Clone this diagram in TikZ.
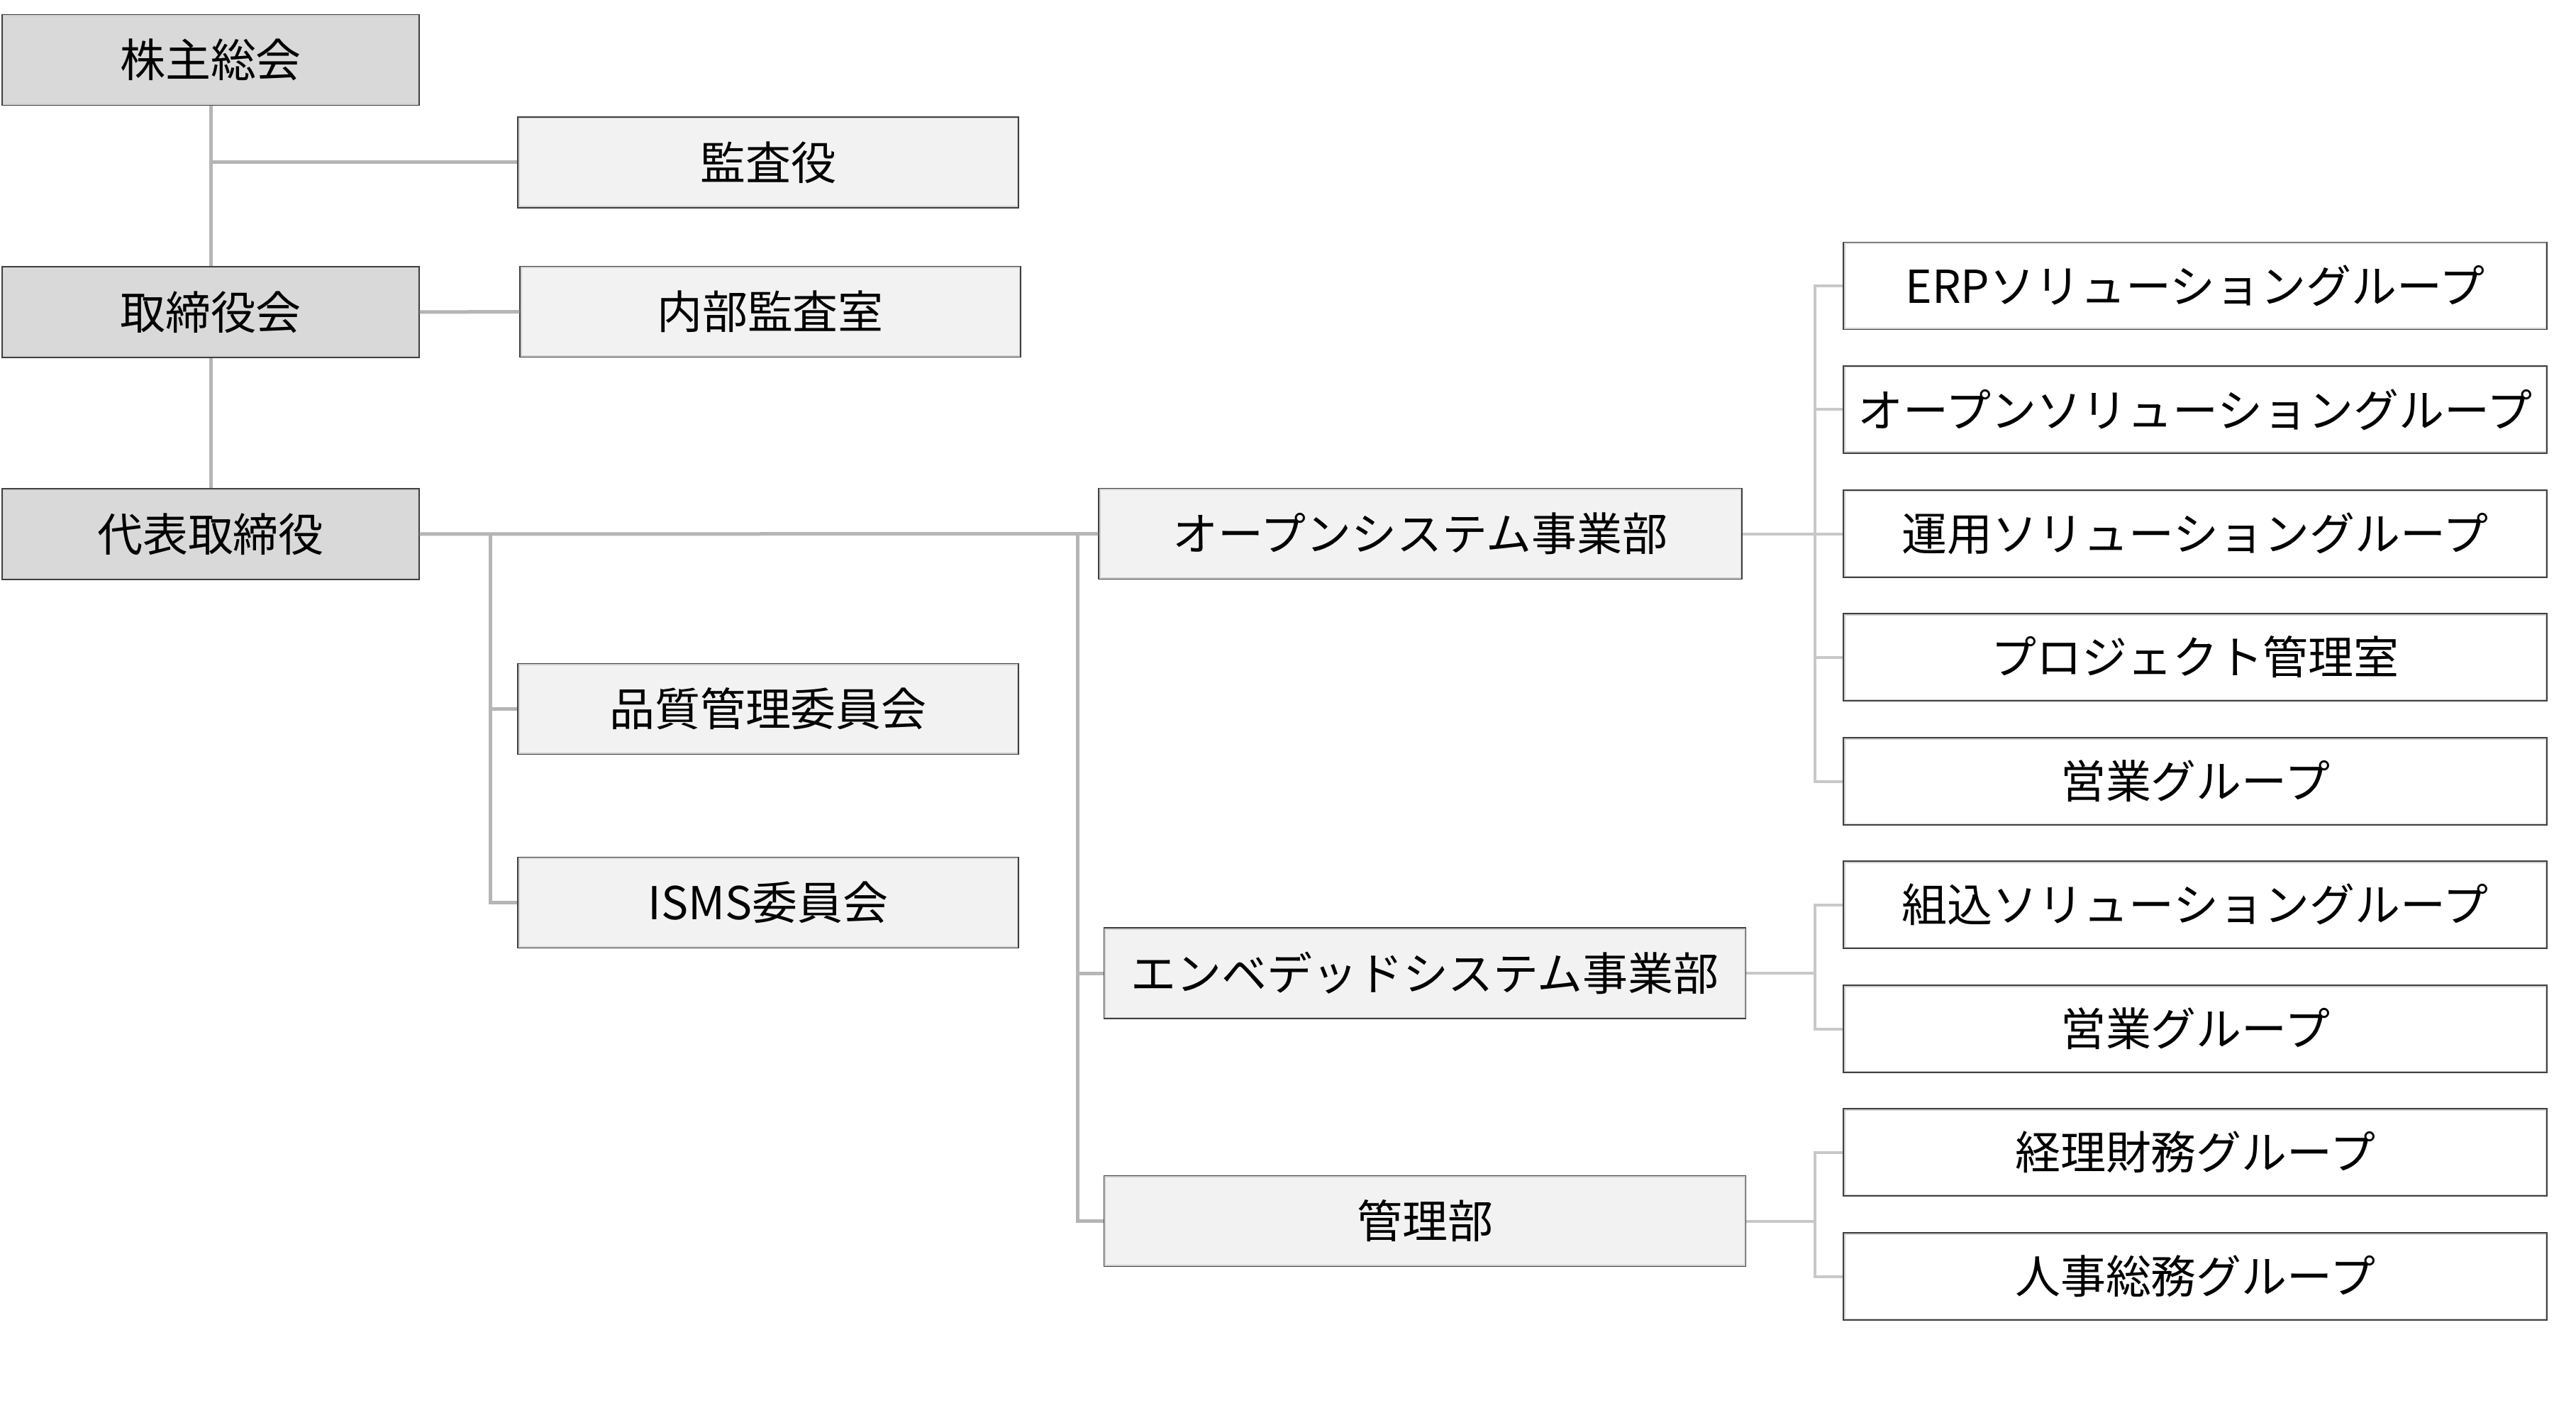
\documentclass[tikz,border=0pt]{standalone}
\usepackage{fontspec}
\setmainfont{Noto Sans CJK JP}
\definecolor{fillA}{HTML}{D9D9D9}
\definecolor{fillB}{HTML}{F2F2F2}
\definecolor{edge}{HTML}{404040}
\definecolor{band}{HTML}{D0D0D0}
\definecolor{lineL}{HTML}{B5B5B5}
\definecolor{lineR}{HTML}{C8C8C8}
\tikzset{
  orgbox/.style={draw=edge, line width=0.4pt, inner sep=0pt, align=center,
    font=\fontsize{18.2pt}{22pt}\selectfont,
    path picture={\draw[band, line width=0.05cm]
      (path picture bounding box.south west) rectangle (path picture bounding box.north east);}},
  topbox/.style={orgbox, fill=fillA, minimum width=5.88cm, minimum height=1.28cm},
  midbox/.style={orgbox, fill=fillB, minimum width=7.06cm, minimum height=1.28cm},
  divbox/.style={orgbox, fill=fillB, minimum width=9.05cm, minimum height=1.28cm},
  grpbox/.style={orgbox, fill=white, minimum width=9.92cm, minimum height=1.23cm},
  linkL/.style={draw=lineL, line width=0.05cm},
  linkR/.style={draw=lineR, line width=0.04cm},
}
\begin{document}
\begin{tikzpicture}
\useasboundingbox (0,0) rectangle (36.32,-19.78);
% left column
\node[topbox] (kabu) at (2.97,-0.845) {株主総会};
\node[topbox] (tori) at (2.97,-4.40) {取締役会};
\node[topbox] (daihyo) at (2.97,-7.53) {代表取締役};
% middle column
\node[midbox] (kansa) at (10.83,-2.29) {監査役};
\node[midbox] (naibu) at (10.86,-4.395) {内部監査室};
\node[midbox] (hin) at (10.83,-9.995) {品質管理委員会};
\node[midbox] (isms) at (10.83,-12.725) {ISMS委員会};
% divisions
\node[divbox, minimum width=9.07cm] (open) at (20.025,-7.525) {オープンシステム事業部};
\node[divbox] (emb) at (20.09,-13.72) {エンベデッドシステム事業部};
\node[divbox] (kanri) at (20.09,-17.215) {管理部};
% groups
\node[grpbox] (erp) at (30.95,-4.03) {ERPソリューショングループ};
\node[grpbox] (opsol) at (30.95,-5.775) {オープンソリューショングループ};
\node[grpbox] (unyo) at (30.95,-7.525) {運用ソリューショングループ};
\node[grpbox] (proj) at (30.95,-9.265) {プロジェクト管理室};
\node[grpbox] (eig1) at (30.95,-11.015) {営業グループ};
\node[grpbox] (kumi) at (30.95,-12.755) {組込ソリューショングループ};
\node[grpbox] (eig2) at (30.95,-14.505) {営業グループ};
\node[grpbox] (keiri) at (30.95,-16.245) {経理財務グループ};
\node[grpbox] (jinji) at (30.95,-17.995) {人事総務グループ};
% helper coordinates
\coordinate (b1) at (6.91,-7.53);
\coordinate (b2) at (15.19,-7.53);
\coordinate (r1) at (25.59,-7.525);
\coordinate (r2) at (25.59,-13.72);
\coordinate (r3) at (25.59,-17.215);
% connectors (left)
\draw[linkL] (kabu.south) -- (tori.north);
\draw[linkL] (tori.south) -- (daihyo.north);
\draw[linkL] (kansa.west -| kabu.south) -- (kansa.west);
\draw[linkL] (tori.east) -- (naibu.west);
\draw[linkL] (daihyo.east) -- (open.west);
\draw[linkL] (b1) |- (hin.west);
\draw[linkL] (b1) |- (isms.west);
\draw[linkL] (b2) |- (emb.west);
\draw[linkL] (b2) |- (kanri.west);
% connectors (right)
\draw[linkR] (open.east) -- (r1);
\draw[linkR] (r1) |- (erp.west);
\draw[linkR] (r1) |- (opsol.west);
\draw[linkR] (r1) -- (unyo.west);
\draw[linkR] (r1) |- (proj.west);
\draw[linkR] (r1) |- (eig1.west);
\draw[linkR] (emb.east) -- (r2);
\draw[linkR] (r2) |- (kumi.west);
\draw[linkR] (r2) |- (eig2.west);
\draw[linkR] (kanri.east) -- (r3);
\draw[linkR] (r3) |- (keiri.west);
\draw[linkR] (r3) |- (jinji.west);
\end{tikzpicture}
\end{document}
